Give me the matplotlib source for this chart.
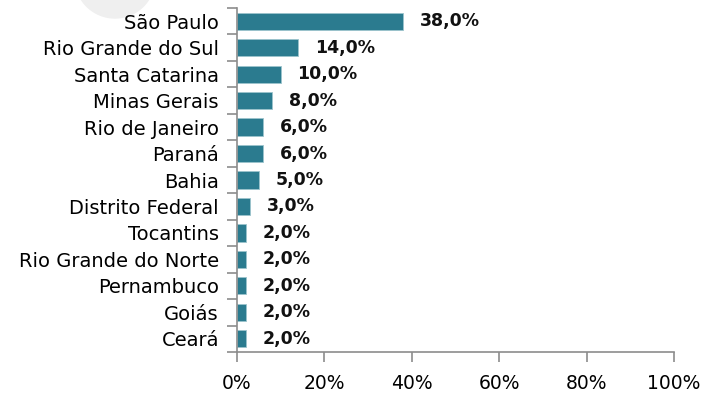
import matplotlib.pyplot as plt
from matplotlib.patches import Circle

# data
estados = ['São Paulo', 'Rio Grande do Sul', 'Santa Catarina', 'Minas Gerais',
           'Rio de Janeiro', 'Paraná', 'Bahia', 'Distrito Federal', 'Tocantins',
           'Rio Grande do Norte', 'Pernambuco', 'Goiás', 'Ceará']
valores = [38.0, 14.0, 10.0, 8.0, 6.0, 6.0, 5.0, 3.0, 2.0, 2.0, 2.0, 2.0, 2.0]
xticks = [0, 20, 40, 60, 80, 100]

plt.rcParams['font.family'] = ['DejaVu Sans']
fig = plt.figure(figsize=(7.17, 4.05), dpi=100)

# faint watermark circle top-left (display coords, y from bottom)
fig.patches.append(Circle((115, 405 + 22), 40, transform=None, color='#efefef', zorder=-5))

ax = fig.add_axes([237 / 717, 1 - 352 / 405, (674 - 237) / 717, (352 - 8) / 405])
ax.patch.set_alpha(0)

pos = list(range(len(estados)))
ax.barh(pos, valores, height=0.65, color='#2b7b8f', edgecolor='#9cc4cc', linewidth=0.6)

for p, v in zip(pos, valores):
    ax.annotate(f'{v:.1f}%'.replace('.', ','), (v, p), xytext=(12, 0),
                textcoords='offset points', va='center', ha='left',
                fontsize=12.5, fontweight='bold', color='#111111')

ax.set_ylim(len(estados) - 0.5, -0.5)
ax.set_xlim(0, 100)
ax.set_xticks(xticks)
ax.set_xticklabels([f'{t}%' for t in xticks], fontsize=13.5)
ax.set_yticks(pos)
ax.set_yticklabels(estados, fontsize=14)
ax.set_yticks([p + 0.5 for p in [-1] + pos], minor=True)

for s in ['top', 'right']:
    ax.spines[s].set_visible(False)
for s in ['left', 'bottom']:
    ax.spines[s].set_color('#8c8c8c')
    ax.spines[s].set_linewidth(1.2)

ax.tick_params(axis='y', which='major', length=0, pad=13)
ax.tick_params(axis='y', which='minor', length=7, color='#8c8c8c', width=1.2)
ax.tick_params(axis='x', length=7, color='#8c8c8c', width=1.2, pad=9)

fig.savefig('out.png', dpi=100)
